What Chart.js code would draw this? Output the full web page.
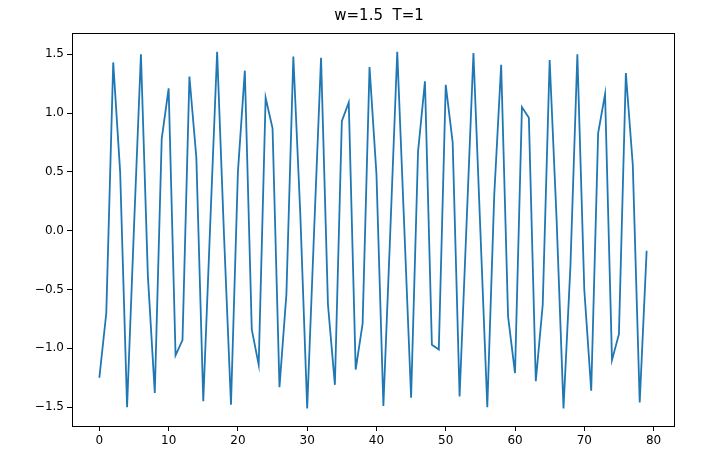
<!DOCTYPE html>
<html>
<head>
<meta charset="utf-8">
<script src="https://cdn.jsdelivr.net/npm/chart.js@4.4.0/dist/chart.umd.min.js"></script>
<style>
  body { margin: 0; background: #fff; }
  #wrap { width: 712px; height: 476px; }
</style>
</head>
<body>
<div id="wrap"><canvas id="waveChart" width="712" height="476"></canvas></div>
<script>
const chartTitle = 'w=1.5  T=1';

// sample values, one per step 0..79
const values = [
  -1.25, -0.70, 1.43, 0.50, -1.50, 0.03, 1.50, -0.38, -1.38, 0.78,
  1.21, -1.06, -0.93, 1.31, 0.62, -1.45, 0.05, 1.52, -0.05, -1.48,
  0.50, 1.36, -0.84, -1.14, 1.13, 0.87, -1.33, -0.54, 1.48, 0.15,
  -1.51, 0.00, 1.47, -0.63, -1.31, 0.93, 1.09, -1.18, -0.79, 1.39,
  0.48, -1.49, 0.00, 1.52, 0.05, -1.42, 0.67, 1.27, -0.97, -1.01,
  1.24, 0.75, -1.41, 0.05, 1.51, 0.00, -1.50, 0.30, 1.41, -0.73,
  -1.21, 1.05, 0.96, -1.28, -0.63, 1.45, 0.10, -1.51, -0.30, 1.50,
  -0.50, -1.36, 0.83, 1.16, -1.10, -0.88, 1.34, 0.56, -1.46, -0.17
];

const xTicks = [0, 10, 20, 30, 40, 50, 60, 70, 80];
const yTicks = [-1.5, -1.0, -0.5, 0.0, 0.5, 1.0, 1.5];

const points = values.map((v, i) => ({ x: i, y: v }));

// matplotlib style frame on all four sides, plus the title above it
const framePlugin = {
  id: 'frame',
  afterDraw(chart) {
    const a = chart.chartArea;
    const ctx = chart.ctx;
    ctx.save();
    ctx.strokeStyle = '#000';
    ctx.lineWidth = 1;
    ctx.strokeRect(Math.round(a.left) + 0.5, Math.round(a.top) + 0.5,
      Math.round(a.right - a.left), Math.round(a.bottom - a.top));
    ctx.fillStyle = '#000';
    ctx.font = '15px "DejaVu Sans"';
    ctx.textAlign = 'center';
    ctx.textBaseline = 'middle';
    ctx.fillText(chartTitle, (a.left + a.right) / 2 + 6, 16);
    ctx.restore();
  }
};

const tickFont = { family: 'DejaVu Sans', size: 12 };

new Chart(document.getElementById('waveChart'), {
  type: 'line',
  data: {
    datasets: [{
      data: points,
      borderColor: '#1f77b4',
      borderWidth: 1.8,
      pointRadius: 0,
      tension: 0,
      fill: false
    }]
  },
  options: {
    responsive: false,
    animation: false,
    layout: { padding: { left: 0, right: 38, top: 33, bottom: 0 } },
    plugins: {
      legend: { display: false },
      tooltip: { enabled: false },
      title: { display: false }
    },
    scales: {
      x: {
        type: 'linear',
        min: -3.95,
        max: 82.95,
        afterBuildTicks: s => { s.ticks = xTicks.map(v => ({ value: v })); },
        afterFit: s => { s.height = 50; },
        border: { display: false },
        grid: { drawOnChartArea: false, tickLength: 5, tickColor: '#000', tickWidth: 1 },
        ticks: { color: '#000', font: tickFont, padding: 3, maxRotation: 0 }
      },
      y: {
        min: -1.66,
        max: 1.68,
        afterBuildTicks: s => { s.ticks = yTicks.map(v => ({ value: v })); },
        afterFit: s => { s.width = 72; },
        border: { display: false },
        grid: { drawOnChartArea: false, tickLength: 5, tickColor: '#000', tickWidth: 1 },
        ticks: {
          color: '#000',
          font: tickFont,
          padding: 3,
          callback: v => v.toFixed(1).replace('-', '\u2212')
        }
      }
    }
  },
  plugins: [framePlugin]
});
</script>
</body>
</html>
